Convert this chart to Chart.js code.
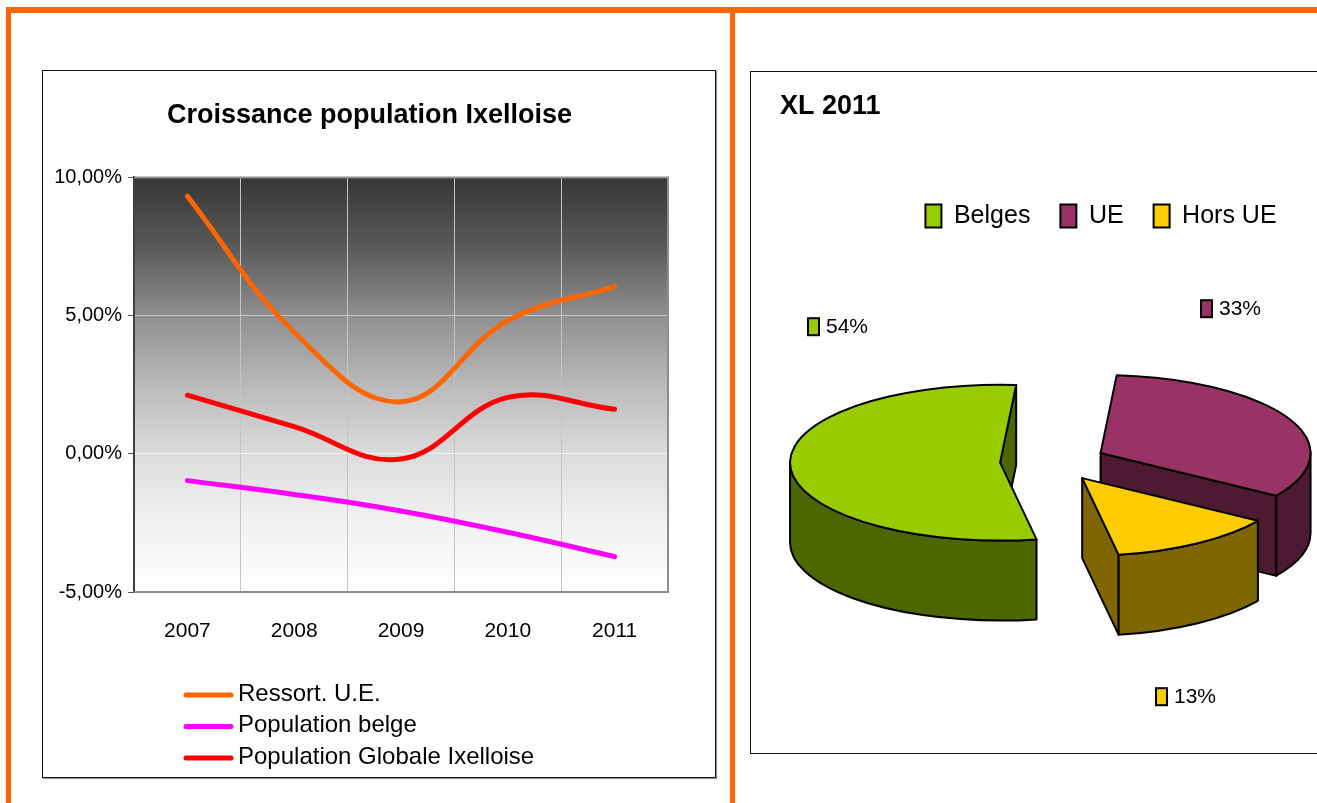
<!DOCTYPE html>
<html>
<head>
<meta charset="utf-8">
<title>Population Ixelles</title>
<script src="https://cdn.jsdelivr.net/npm/chart.js@4.4.0/dist/chart.umd.min.js"></script>
<style>
  html, body { margin: 0; padding: 0; background: #fff; width: 1317px; height: 803px; overflow: hidden; }
  .bar { position: absolute; background: #ff6600; }
  .panel { position: absolute; border: 1px solid #111; background: #fff; }
  #leftPanel { left: 42px; top: 70px; width: 672px; height: 706px; box-shadow: 1px 1px 1px #999; }
  #rightPanel { left: 750px; top: 71px; width: 620px; height: 681px; }
  canvas { display: block; }
</style>
</head>
<body>
<div class="bar" style="left:6px;top:7px;width:1330px;height:6px"></div>
<div class="bar" style="left:6px;top:7px;width:5px;height:800px"></div>
<div class="bar" style="left:730px;top:7px;width:5px;height:800px"></div>

<div id="leftPanel" class="panel"><canvas id="lineChart" width="672" height="706"></canvas></div>
<div id="rightPanel" class="panel"><canvas id="pieChart" width="620" height="681"></canvas></div>

<script>
"use strict"

// growth rates in %, one value per year
const years = ['2007', '2008', '2009', '2010', '2011'];
const ressortUE = [9.32, 4.40, 1.88, 4.82, 6.05];
const popBelge = [-0.97, -1.47, -2.07, -2.84, -3.72];
const popGlobale = [2.12, 0.98, -0.19, 2.04, 1.61];
const yTicks = [-5, 0, 5, 10];

// population split for 2011
const pieLabels = ['Belges', 'UE', 'Hors UE'];
const pieShares = [54, 33, 13];

const sans = '"Liberation Sans", Arial, sans-serif';
const titleShift = 14;

// ---------- line chart ----------

const plotBackground = {
  id: 'plotBackground',
  afterLayout(chart) {
    // title sits centred on the whole frame, not on the plot
    chart.titleBlock.left += titleShift;
    chart.titleBlock.right += titleShift;
  },
  beforeDraw(chart) {
    const {ctx, chartArea: a} = chart;
    const g = ctx.createLinearGradient(0, a.top, 0, a.bottom);
    g.addColorStop(0, '#363636');
    g.addColorStop(0.17, '#5a5a5a');
    g.addColorStop(0.33, '#8e8e8e');
    g.addColorStop(0.5, '#b9b9b9');
    g.addColorStop(0.67, '#dcdcdc');
    g.addColorStop(0.83, '#f1f1f1');
    g.addColorStop(1, '#ffffff');
    ctx.save();
    ctx.fillStyle = g;
    ctx.fillRect(a.left, a.top, a.width, a.height);
    ctx.restore();
  },
  beforeDatasetsDraw(chart) {
    // grey frame on top, right and bottom of the plot
    const {ctx, chartArea: a} = chart;
    ctx.save();
    ctx.strokeStyle = '#8c8c8c';
    ctx.lineWidth = 2;
    ctx.beginPath();
    ctx.moveTo(a.left, a.top);
    ctx.lineTo(a.right, a.top);
    ctx.lineTo(a.right, a.bottom);
    ctx.lineTo(a.left, a.bottom);
    ctx.stroke();
    ctx.restore();
  }
};

// legend stacked in one column under the axis
const lineLegend = {
  id: 'lineLegend',
  afterDraw(chart) {
    const ctx = chart.ctx;
    ctx.save();
    ctx.font = '24px ' + sans;
    ctx.textBaseline = 'middle';
    ctx.lineCap = 'round';
    ctx.lineWidth = 5;
    chart.data.datasets.forEach((ds, i) => {
      const y = 624 + i * 31.5;
      ctx.strokeStyle = ds.borderColor;
      ctx.beginPath();
      ctx.moveTo(143, y);
      ctx.lineTo(188, y);
      ctx.stroke();
      ctx.fillStyle = '#000';
      ctx.fillText(ds.label, 195, y - 1);
    });
    ctx.restore();
  }
};

new Chart(document.getElementById('lineChart'), {
  type: 'line',
  data: {
    labels: years,
    datasets: [
      { label: 'Ressort. U.E.', data: ressortUE, borderColor: '#ff6600' },
      { label: 'Population belge', data: popBelge, borderColor: '#ff00ff' },
      { label: 'Population Globale Ixelloise', data: popGlobale, borderColor: '#ff0000' }
    ]
  },
  options: {
    responsive: false,
    animation: false,
    events: [],
    layout: { padding: { left: 0, right: 47, top: 0, bottom: 0 } },
    elements: {
      line: { borderWidth: 5, tension: 0.4, borderCapStyle: 'round', borderJoinStyle: 'round', fill: false },
      point: { radius: 0 }
    },
    scales: {
      x: {
        offset: true,
        grid: { offset: true, color: '#c4c4c4', lineWidth: 1, drawTicks: false },
        border: { color: '#8c8c8c', width: 2 },
        ticks: { color: '#000', padding: 27, maxRotation: 0, font: { family: sans, size: 21 } },
        afterFit: s => { s.height = 185; }
      },
      y: {
        min: -5,
        max: 10,
        afterBuildTicks: s => { s.ticks = yTicks.map(v => ({ value: v })); },
        grid: {
          color: c => (c.tick && c.tick.value === 0) ? '#f2f2f2' : '#c8c8c8',
          tickColor: '#555',
          tickLength: 6,
          lineWidth: 1
        },
        border: { color: '#404040', width: 2 },
        ticks: {
          color: '#000',
          padding: 6,
          font: { family: sans, size: 20 },
          callback: v => v.toFixed(2).replace('.', ',') + '%'
        },
        afterFit: s => { s.width = 91; }
      }
    },
    plugins: {
      title: {
        display: true,
        text: 'Croissance population Ixelloise',
        color: '#000',
        font: { family: sans, size: 27, weight: 'bold' },
        padding: { top: 28, bottom: 46 }
      },
      legend: { display: false },
      tooltip: { enabled: false }
    }
  },
  plugins: [plotBackground, lineLegend]
});

// ---------- 3d pie ----------

const pieTop = ['#99cc00', '#993366', '#ffcc00'];
const pieSide = ['#4c6600', '#4d1a33', '#806600'];
const labelOffsets = [[-245, -135], [148, -153], [103, 235]];
const wallDepth = 80;
const tilt = 0.371;
const explode = 53;
const legendShift = 48;

function drawSlice(ctx, el, i) {
  const x = el.x, y = el.y, a0 = el.startAngle, a1 = el.endAngle, r = el.outerRadius;
  const mid = (a0 + a1) / 2;
  const cx = x + Math.cos(mid) * explode;
  const cy = y + Math.sin(mid) * explode * tilt;
  const ry = r * tilt;
  const TAU = Math.PI * 2;

  ctx.save();
  ctx.lineWidth = 2;
  ctx.lineJoin = 'round';
  ctx.strokeStyle = '#000';
  ctx.fillStyle = pieSide[i];

  // cut faces turned towards the viewer
  [[a0, Math.cos(a0) < 0], [a1, Math.cos(a1) > 0]].forEach(([a, visible]) => {
    if (!visible) return;
    const px = cx + Math.cos(a) * r, py = cy + Math.sin(a) * ry;
    ctx.beginPath();
    ctx.moveTo(cx, cy);
    ctx.lineTo(px, py);
    ctx.lineTo(px, py + wallDepth);
    ctx.lineTo(cx, cy + wallDepth);
    ctx.closePath();
    ctx.fill();
    ctx.stroke();
  });

  // front half of the rim
  for (let k = Math.floor(a0 / TAU) - 1; k <= Math.floor(a1 / TAU) + 1; k++) {
    const lo = Math.max(a0, k * TAU), hi = Math.min(a1, k * TAU + Math.PI);
    if (hi <= lo) continue;
    ctx.beginPath();
    ctx.ellipse(cx, cy, r, ry, 0, lo, hi);
    ctx.ellipse(cx, cy + wallDepth, r, ry, 0, hi, lo, true);
    ctx.closePath();
    ctx.fill();
    ctx.stroke();
  }

  // top face: the arc element itself, squashed
  ctx.save();
  ctx.translate(cx, cy);
  ctx.scale(1, tilt);
  ctx.translate(-x, -y);
  el.draw(ctx);
  ctx.restore();

  ctx.beginPath();
  ctx.moveTo(cx, cy);
  ctx.ellipse(cx, cy, r, ry, 0, a0, a1);
  ctx.closePath();
  ctx.stroke();
  ctx.restore();
}

const pie3d = {
  id: 'pie3d',
  afterLayout(chart) {
    chart.legend.left += legendShift;
    chart.legend.right += legendShift;
  },
  beforeDatasetsDraw(chart) {
    const ctx = chart.ctx;
    chart.getDatasetMeta(0).data.forEach((el, i) => drawSlice(ctx, el, i));
    return false;
  },
  afterDraw(chart) {
    const ctx = chart.ctx;
    ctx.save();
    ctx.font = '21px ' + sans;
    ctx.textBaseline = 'middle';
    chart.getDatasetMeta(0).data.forEach((el, i) => {
      const bx = el.x + labelOffsets[i][0], by = el.y + labelOffsets[i][1];
      ctx.fillStyle = pieTop[i];
      ctx.fillRect(bx, by - 8.5, 11, 17);
      ctx.lineWidth = 2;
      ctx.strokeStyle = '#000';
      ctx.strokeRect(bx, by - 8.5, 11, 17);
      ctx.fillStyle = '#000';
      ctx.fillText(pieShares[i] + '%', bx + 18, by + 1);
    });
    ctx.restore();
  }
};

new Chart(document.getElementById('pieChart'), {
  type: 'pie',
  data: {
    labels: pieLabels,
    datasets: [{ data: pieShares, backgroundColor: pieTop, borderWidth: 0 }]
  },
  options: {
    responsive: false,
    animation: false,
    events: [],
    rotation: 170,
    radius: 210,
    layout: { padding: { left: 29, right: 45, top: 0, bottom: 68 } },
    plugins: {
      title: {
        display: true,
        align: 'start',
        text: 'XL 2011',
        color: '#000',
        font: { family: sans, size: 27, weight: 'bold' },
        padding: { top: 18, bottom: 51 }
      },
      legend: {
        position: 'top',
        labels: {
          boxWidth: 16,
          boxHeight: 23,
          padding: 30,
          color: '#000',
          font: { family: sans, size: 25 },
          generateLabels: chart => chart.data.labels.map((text, i) => ({
            text: text,
            fillStyle: pieTop[i],
            strokeStyle: '#000',
            lineWidth: 2,
            hidden: false,
            index: i
          }))
        }
      },
      tooltip: { enabled: false }
    }
  },
  plugins: [pie3d]
});
</script>
</body>
</html>
